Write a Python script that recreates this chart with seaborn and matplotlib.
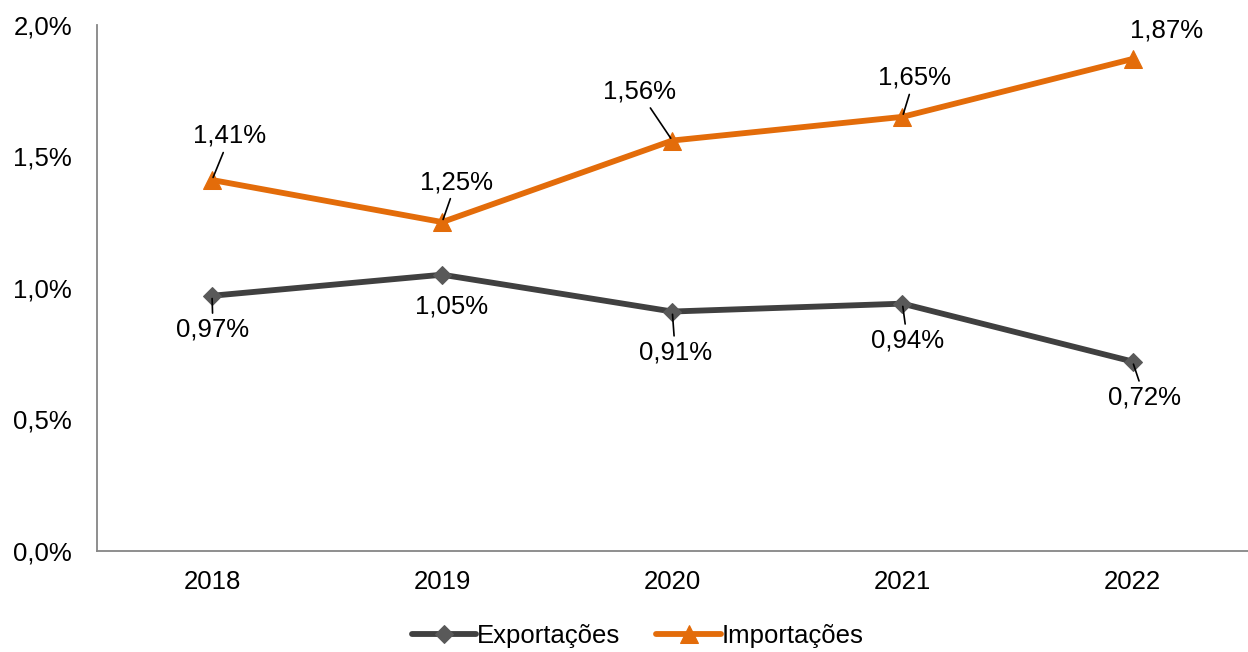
import pandas as pd
import matplotlib
matplotlib.use("Agg")
import matplotlib.pyplot as plt
from matplotlib.ticker import FuncFormatter
import seaborn as sns

anos = ["2018", "2019", "2020", "2021", "2022"]
exportacoes = [0.97, 1.05, 0.91, 0.94, 0.72]
importacoes = [1.41, 1.25, 1.56, 1.65, 1.87]

# deslocamento dos rótulos (px, y para cima) e se há linha guia
off_exp = [(1, -34, True), (9, -32, False), (3, -41, True), (5, -37, True), (12, -36, True)]
off_imp = [(18, 44, True), (14, 40, True), (-33, 49, True), (12, 39, True), (34, 28, False)]

sns.set_style("white")
plt.rcParams["font.family"] = ["Liberation Sans", "DejaVu Sans"]
plt.rcParams["font.size"] = 18.5

df = pd.DataFrame({"ano": anos, "Exportações": exportacoes, "Importações": importacoes})

fig = plt.figure(figsize=(12.48, 6.52), dpi=100)
ax = fig.add_axes([0.0777, 0.155, 0.922, 0.807])

sns.lineplot(data=df, x="ano", y="Exportações", ax=ax, color="#404040", lw=4.2,
             marker="D", markersize=9, markerfacecolor="#595959", markeredgecolor="#595959",
             label="Exportações")
sns.lineplot(data=df, x="ano", y="Importações", ax=ax, color="#E36C0A", lw=4.2,
             marker="^", markersize=13, markerfacecolor="#E36C0A", markeredgecolor="#E36C0A",
             label="Importações")

def fmt(v):
    return f"{v:.2f}".replace(".", ",") + "%"

for serie, offs in [(exportacoes, off_exp), (importacoes, off_imp)]:
    for i, (v, (dx, dy, guia)) in enumerate(zip(serie, offs)):
        props = dict(arrowstyle="-", color="black", lw=1.2, shrinkA=1, shrinkB=2) if guia else None
        ax.annotate(fmt(v), xy=(i, v), xytext=(dx, dy),
                    textcoords="offset pixels", ha="center", va="center",
                    fontsize=18.5, color="black", arrowprops=props)

ax.set_ylim(0, 2.0)
ax.set_xlim(-0.5, 4.5)
ax.set_yticks([0, 0.5, 1.0, 1.5, 2.0])
ax.yaxis.set_major_formatter(FuncFormatter(lambda v, p: f"{v:.1f}".replace(".", ",") + "%"))
ax.set_xlabel("")
ax.set_ylabel("")
for s in ["top", "right"]:
    ax.spines[s].set_visible(False)
for s in ["left", "bottom"]:
    ax.spines[s].set_color("#868686")
    ax.spines[s].set_linewidth(1.3)
ax.tick_params(axis="y", length=8, width=1.3, color="#868686", pad=10, labelsize=18.5,
               labelcolor="black")
ax.tick_params(axis="x", length=0, pad=14, labelsize=18.5, labelcolor="black")

ax.legend_.remove()
h, l = ax.get_legend_handles_labels()
fig.legend(h, l, loc="center", bbox_to_anchor=(0.511, 0.025), ncol=2, frameon=False,
           fontsize=18.5, handlelength=2.5, handletextpad=0.05, columnspacing=1.4,
           labelcolor="black")

fig.savefig("out.png", dpi=100)
